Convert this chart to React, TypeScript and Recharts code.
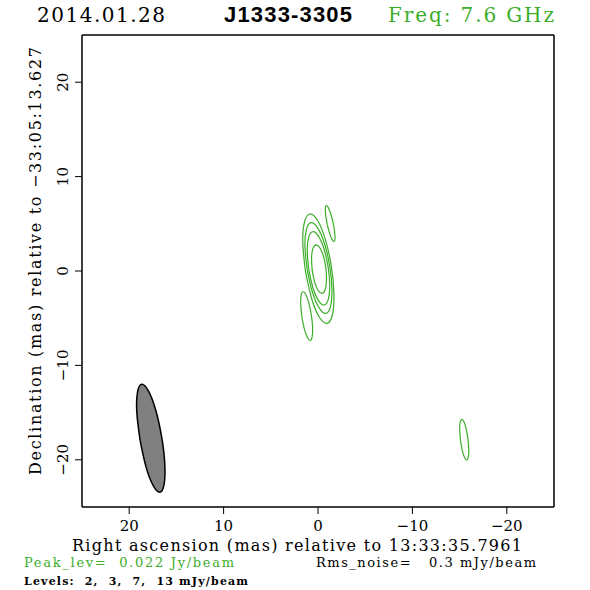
import React from "react";
import { ScatterChart, Scatter, XAxis, YAxis, Curve } from "recharts";

const xTicks = [20, 10, 0, -10, -20];
const yTicks = [-20, -10, 0, 10, 20];

// core contours, levels 2, 3, 7, 13 mJy/beam (outer -> inner)
const core2 = [[1.34, 0.03], [1.61, 2.96], [1.44, 5.16], [0.87, 6.04], [0.05, 5.37], [-0.78, 3.33], [-1.42, 0.47], [-1.69, -2.46], [-1.52, -4.66], [-0.95, -5.54], [-0.13, -4.87], [0.7, -2.83], [1.34, 0.03]];
const core3 = [[1.14, 0.12], [1.38, 2.55], [1.23, 4.38], [0.74, 5.12], [0.04, 4.57], [-0.69, 2.89], [-1.24, 0.52], [-1.48, -1.91], [-1.33, -3.74], [-0.84, -4.48], [-0.14, -3.93], [0.59, -2.25], [1.14, 0.12]];
const core7 = [[0.97, 0.12], [1.14, 2.08], [0.99, 3.56], [0.56, 4.16], [-0.03, 3.72], [-0.63, 2.36], [-1.07, 0.44], [-1.24, -1.52], [-1.09, -3.0], [-0.66, -3.6], [-0.07, -3.16], [0.53, -1.8], [0.97, 0.12]];
const core13 = [[0.62, 0.11], [0.68, 1.4], [0.54, 2.37], [0.21, 2.76], [-0.19, 2.46], [-0.58, 1.56], [-0.83, 0.29], [-0.9, -1.01], [-0.75, -1.98], [-0.43, -2.36], [-0.02, -2.07], [0.36, -1.16], [0.62, 0.11]];

// lowest level islands
const blobNE = [[-0.97, 4.97], [-0.81, 5.94], [-0.78, 6.67], [-0.88, 6.96], [-1.09, 6.73], [-1.35, 6.06], [-1.6, 5.11], [-1.76, 4.14], [-1.8, 3.41], [-1.7, 3.12], [-1.48, 3.35], [-1.22, 4.02], [-0.97, 4.97]];
const blobSW = [[1.71, -4.86], [1.83, -3.56], [1.79, -2.58], [1.59, -2.2], [1.28, -2.51], [0.96, -3.43], [0.7, -4.71], [0.57, -6.01], [0.62, -6.98], [0.82, -7.36], [1.12, -7.05], [1.45, -6.14], [1.71, -4.86]];
const blobFar = [[-15.09, -17.91], [-15.01, -16.82], [-15.06, -16.02], [-15.23, -15.71], [-15.46, -15.97], [-15.7, -16.74], [-15.89, -17.81], [-15.97, -18.9], [-15.92, -19.7], [-15.76, -20.02], [-15.52, -19.75], [-15.28, -18.98], [-15.09, -17.91]];

// restoring beam outline
const beam = [[18.85, -17.91], [19.19, -15.03], [19.12, -12.86], [18.68, -12.0], [17.98, -12.67], [17.2, -14.69], [16.57, -17.53], [16.23, -20.41], [16.3, -22.58], [16.74, -23.44], [17.44, -22.77], [18.22, -20.75], [18.85, -17.91]];

const contours = [core2, core3, core7, core13, blobNE, blobSW, blobFar];

const GREEN = "#3cae2a";
const SERIF = "'DejaVu Serif', serif";

const toPts = (arr: number[][]) => arr.map(([x, y]) => ({ x, y }));
const fmt = (v: number) => (v < 0 ? "\u2212" + Math.abs(v) : String(v));
const noDot = () => <g />;

const YTick = (props: any) => {
  const { x, y, payload } = props;
  return (
    <text x={x} y={y} transform={`rotate(-90 ${x} ${y})`} textAnchor="middle" fontFamily={SERIF} fontSize={15} fill="#000">
      {fmt(payload.value)}
    </text>
  );
};

const frame = { stroke: "#000", strokeWidth: 1.5 };
const tickLn = { stroke: "#000", strokeWidth: 1 };

export default function App() {
  return (
    <div style={{ position: "absolute", left: 0, top: 0, width: 590, height: 590, background: "#fff" }}>
      <ScatterChart width={590} height={590} margin={{ top: 0, right: 0, bottom: 0, left: 0 }}>
        <XAxis xAxisId="b" type="number" dataKey="x" domain={[-25, 25]} reversed ticks={xTicks} interval={0}
          orientation="bottom" height={83} tickSize={7} tickMargin={6} axisLine={frame} tickLine={tickLn}
          tick={{ fontFamily: SERIF, fontSize: 15, fill: "#000" }} tickFormatter={fmt} allowDataOverflow />
        <XAxis xAxisId="t" type="number" dataKey="x" domain={[-25, 25]} reversed ticks={xTicks} interval={0}
          orientation="top" height={35} tickSize={7} axisLine={frame} tickLine={tickLn} tick={false} allowDataOverflow />
        <YAxis yAxisId="l" type="number" dataKey="y" domain={[-25, 25]} ticks={yTicks} interval={0}
          orientation="left" width={82} tickSize={7} tickMargin={7} axisLine={frame} tickLine={tickLn}
          tick={YTick} allowDataOverflow />
        <YAxis yAxisId="r" type="number" dataKey="y" domain={[-25, 25]} ticks={yTicks} interval={0}
          orientation="right" width={36} tickSize={7} axisLine={frame} tickLine={tickLn} tick={false} allowDataOverflow />
        <Scatter xAxisId="t" yAxisId="r" data={toPts(beam)} shape={noDot} isAnimationActive={false} />
        <Scatter xAxisId="b" yAxisId="l" data={toPts(beam)} shape={noDot} isAnimationActive={false}
          line={(p: any) => <Curve {...p} type="natural" fill="#808080" stroke="#000" strokeWidth={1.5} />} />
        {contours.map((c, i) => (
          <Scatter key={i} xAxisId="b" yAxisId="l" data={toPts(c)} shape={noDot} isAnimationActive={false}
            fill={GREEN} line={{ stroke: GREEN, strokeWidth: 1.2 }} lineJointType="natural" />
        ))}
      </ScatterChart>
      <svg width={590} height={590} style={{ position: "absolute", left: 0, top: 0, pointerEvents: "none" }}>
        <text x={37} y={22} fontFamily={SERIF} fontSize={20} textLength={128} lengthAdjust="spacing">2014.01.28</text>
        <text x={224} y={22} fontFamily="'Liberation Sans', Arial, sans-serif" fontWeight="bold" fontSize={22} textLength={128} lengthAdjust="spacing">J1333-3305</text>
        <text x={388} y={22} fontFamily={SERIF} fontSize={20} fill={GREEN} textLength={166} lengthAdjust="spacing">Freq: 7.6 GHz</text>
        <text x={41} y={261} transform="rotate(-90 41 261)" textAnchor="middle" fontFamily={SERIF} fontSize={16} textLength={428} lengthAdjust="spacing">
          Declination (mas) relative to {"\u2212"}33:05:13.627
        </text>
        <text x={72} y={551} fontFamily={SERIF} fontSize={16} textLength={450} lengthAdjust="spacing">
          Right ascension (mas) relative to 13:33:35.7961
        </text>
        <text x={24} y={567} fontFamily={SERIF} fontSize={13} fill={GREEN} textLength={210} lengthAdjust="spacing" style={{ whiteSpace: "pre" }}>
          {"Peak_lev=  0.022 Jy/beam"}
        </text>
        <text x={316} y={567} fontFamily={SERIF} fontSize={13} textLength={220} lengthAdjust="spacing" style={{ whiteSpace: "pre" }}>
          {"Rms_noise=   0.3 mJy/beam"}
        </text>
        <text x={24} y={585} fontFamily={SERIF} fontSize={11} fontWeight="bold" textLength={224} lengthAdjust="spacing" style={{ whiteSpace: "pre" }}>
          {"Levels:  2,  3,  7,  13 mJy/beam"}
        </text>
      </svg>
    </div>
  );
}
